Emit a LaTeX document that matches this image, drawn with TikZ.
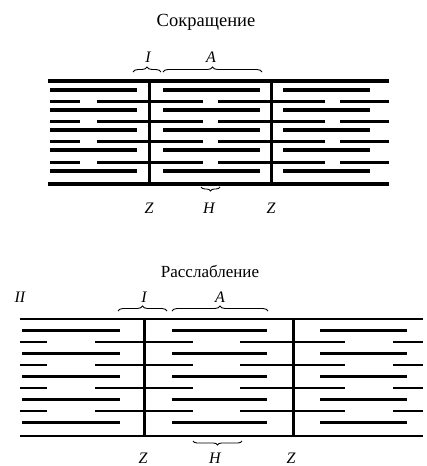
\documentclass[tikz,border=0pt]{standalone}
\usepackage{fontspec}
\setmainfont{Liberation Serif}
\usetikzlibrary{decorations.pathreplacing}

\begin{document}
\begin{tikzpicture}[x=1pt,y=1pt,
  frameline/.style={line width=3.2pt},
  zline/.style={line width=3.0pt},
  thick fil/.style={line width=3.8pt},
  thin fil/.style={line width=3.0pt},
  frameline2/.style={line width=2.8pt},
  thick fil2/.style={line width=3.0pt},
  thin fil2/.style={line width=2.4pt},
  bracetop/.style={decorate,decoration={brace,amplitude=5pt},line width=0.9pt},
  brace small/.style={decorate,decoration={brace,amplitude=4pt,mirror},line width=0.9pt},
  title/.style={font=\fontsize{18.5}{20}\selectfont},
  title2/.style={font=\fontsize{17}{19}\selectfont},
  lbl/.style={font=\fontsize{16}{18}\selectfont\itshape}]

\useasboundingbox (0,0) rectangle (427,-466);

% ---------------- contraction ----------------
\node[title] (t1) at (206,-22) {Сокращение};

\draw[frameline] (48,-81) -- (389,-81);
\draw[frameline] (48,-184) -- (389,-184);

% thick filaments
\foreach \y in {90,110,130,150,171}{
  \foreach \a/\b in {50/137,163/260,283/370}
    \draw[thick fil] (\a,-\y) -- (\b,-\y);
}
% thin filaments anchored at the Z lines
\foreach \y in {101,121,141,162}{
  \foreach \a/\b in {50/80,97/203,218/325,340/389}
    \draw[thin fil] (\a,-\y) -- (\b,-\y);
}
% Z lines
\draw[zline] (149,-81) -- (149,-184);
\draw[zline] (271,-81) -- (271,-184);

% bands
\draw[bracetop] (133,-72) -- (161,-72);
\draw[bracetop] (163,-72) -- (262,-72);
\draw[brace small] (201,-187) -- (220,-187);

\node[lbl] (i1) at (148,-57) {I};
\node[lbl] (a1) at (211,-57) {A};
\node[lbl] (z1a) at (149,-208) {Z};
\node[lbl] (h1) at (209,-208) {H};
\node[lbl] (z1b) at (271,-208) {Z};

% ---------------- relaxation ----------------
\node[title2] (t2) at (210,-271) {Расслабление};
\node[lbl] (roman) at (20,-297) {II};

\draw[frameline2] (20,-319) -- (423,-319);
\draw[frameline2] (20,-436) -- (423,-436);

\foreach \y in {330,353,376,399,422}{
  \foreach \a/\b in {22/120,172/267,320/407}
    \draw[thick fil2] (\a,-\y) -- (\b,-\y);
}
\foreach \y in {342,365,388,411}{
  \foreach \a/\b in {20/47,95/193,240/345,393/423}
    \draw[thin fil2] (\a,-\y) -- (\b,-\y);
}
\draw[zline] (144,-319) -- (144,-436);
\draw[zline] (293,-319) -- (293,-436);

\draw[bracetop] (118,-311) -- (167,-311);
\draw[bracetop] (172,-311) -- (268,-311);
\draw[brace small] (193,-441) -- (242,-441);

\node[lbl] (i2) at (144,-297) {I};
\node[lbl] (a2) at (220,-297) {A};
\node[lbl] (z2a) at (143,-458) {Z};
\node[lbl] (h2) at (215,-458) {H};
\node[lbl] (z2b) at (291,-458) {Z};
\end{tikzpicture}
\end{document}
